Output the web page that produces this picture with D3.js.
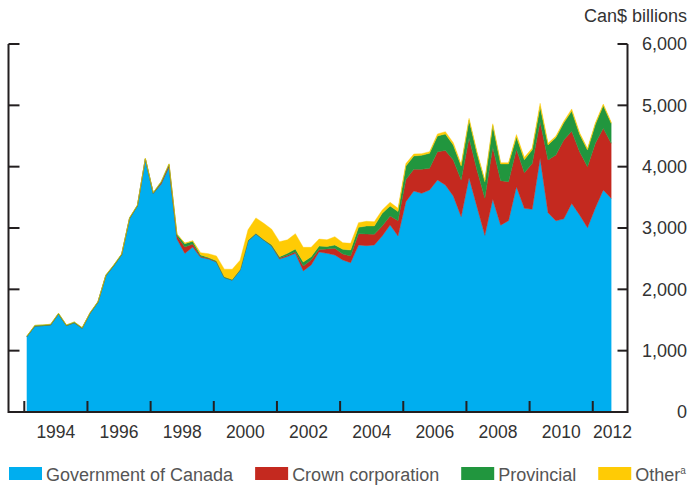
<!DOCTYPE html>
<html>
<head>
<meta charset="utf-8">
<script src="https://d3js.org/d3.v7.min.js"></script>
<style>
	body { margin: 0; background: #fff; }
	svg { display: block; }
	text { font-family: "Liberation Sans", Arial, Helvetica, sans-serif; }
</style>
</head>
<body>
<div id="chart"></div>
<script>
// Quarterly data, Can$ billions
var quarters = [
	"1993Q1","1993Q2","1993Q3","1993Q4","1994Q1","1994Q2","1994Q3","1994Q4",
	"1995Q1","1995Q2","1995Q3","1995Q4","1996Q1","1996Q2","1996Q3","1996Q4",
	"1997Q1","1997Q2","1997Q3","1997Q4","1998Q1","1998Q2","1998Q3","1998Q4",
	"1999Q1","1999Q2","1999Q3","1999Q4","2000Q1","2000Q2","2000Q3","2000Q4",
	"2001Q1","2001Q2","2001Q3","2001Q4","2002Q1","2002Q2","2002Q3","2002Q4",
	"2003Q1","2003Q2","2003Q3","2003Q4","2004Q1","2004Q2","2004Q3","2004Q4",
	"2005Q1","2005Q2","2005Q3","2005Q4","2006Q1","2006Q2","2006Q3","2006Q4",
	"2007Q1","2007Q2","2007Q3","2007Q4","2008Q1","2008Q2","2008Q3","2008Q4",
	"2009Q1","2009Q2","2009Q3","2009Q4","2010Q1","2010Q2","2010Q3","2010Q4",
	"2011Q1","2011Q2","2011Q3"
];

var govCanada = [
	1230, 1400, 1408, 1418, 1598, 1408, 1455, 1365,
	1610, 1790, 2222, 2385, 2565, 3155, 3362, 4125,
	3565, 3715, 3995, 2820, 2585, 2690, 2522, 2495,
	2445, 2192, 2150, 2315, 2790, 2905, 2804, 2706,
	2495, 2535, 2587, 2300, 2397, 2610, 2587, 2560,
	2478, 2435, 2723, 2712, 2723, 2870, 3049, 2870,
	3430, 3603, 3565, 3620, 3783, 3701, 3522, 3185,
	3818, 3348, 2880, 3468, 3045, 3120, 3674, 3321,
	3305, 4136, 3250, 3117, 3150, 3400, 3212, 3005,
	3330, 3620, 3484
];

var crownCorp = [
	0, 0, 0, 0, 0, 0, 0, 0,
	0, 0, 0, 0, 0, 0, 0, 0,
	0, 20, 30, 50, 105, 50, 15, 10,
	5, 0, 0, 0, 0, 0, 0, 5,
	15, 20, 25, 80, 80, 40, 70, 109,
	98, 109, 185, 190, 174, 163, 147, 250,
	360, 354, 392, 353, 462, 561, 587, 598,
	650, 598, 604, 848, 727, 635, 609, 581,
	745, 597, 859, 1073, 1285, 1176, 1033, 995,
	1050, 1006, 897
];

var provincial = [
	10, 12, 12, 12, 12, 10, 12, 10,
	10, 10, 12, 12, 12, 12, 12, 10,
	12, 20, 20, 27, 55, 44, 23, 15,
	15, 12, 12, 10, 10, 10, 10, 15,
	22, 32, 46, 65, 55, 55, 40, 54,
	77, 97, 103, 131, 136, 207, 163, 147,
	220, 217, 228, 245, 255, 271, 245, 228,
	290, 272, 271, 355, 272, 289, 200, 210,
	225, 245, 245, 285, 280, 330, 285, 272,
	310, 370, 326
];

var other = [
	0, 0, 0, 0, 0, 0, 0, 0,
	0, 0, 0, 0, 0, 0, 0, 0,
	0, 0, 0, 5, 10, 10, 38, 60,
	80, 125, 165, 150, 170, 250, 262, 255,
	245, 220, 250, 240, 153, 115, 110, 136,
	108, 109, 76, 76, 70, 54, 60, 54,
	40, 33, 27, 27, 33, 38, 37, 27,
	30, 27, 27, 28, 21, 20, 40, 40,
	28, 55, 27, 25, 26, 35, 25, 25,
	25, 25, 20
];

var seriesNames = ["Government of Canada", "Crown corporation", "Provincial", "Other"];
var seriesColors = ["#00aeef", "#c4291f", "#21963e", "#ffcb05"];

var yTicks = [0, 1000, 2000, 3000, 4000, 5000, 6000];
var xTickYears = [1993, 1995, 1997, 1999, 2001, 2003, 2005, 2007, 2009, 2011];
var xLabelYears = [1994, 1996, 1998, 2000, 2002, 2004, 2006, 2008, 2010, 2012];

var width = 687,
	height = 487,
	svg,
	x,
	y,
	table;

var axisColor = "#231f20";

function init() {
	svg = d3.select("#chart")
		.append("svg")
		.attr("width", width)
		.attr("height", height);

	// decimal year of each quarter (plotted near start of quarter)
	table = quarters.map(function(q, i) {
		var yr = +q.slice(0, 4), qn = +q.slice(5);
		return {
			t: yr + (qn - 1) / 4 + 1 / 12,
			gov: govCanada[i],
			crown: crownCorp[i],
			prov: provincial[i],
			other: other[i]
		};
	});

	x = d3.scaleLinear().domain([1992.5, 2012.1]).range([8.5, 627.5]);
	y = d3.scaleLinear().domain([0, 6000]).range([412, 44]);

	drawAreas();
	drawAxes();
	drawLegend();
}

function drawAreas() {
	var stack = d3.stack().keys(["gov", "crown", "prov", "other"]);
	var layers = stack(table);

	var area = d3.area()
		.x(function(d) { return x(d.data.t); })
		.y0(function(d) { return y(d[0]); })
		.y1(function(d) { return y(d[1]); });

	svg.append("g")
		.selectAll("path")
		.data(layers)
		.enter().append("path")
		.attr("d", area)
		.attr("fill", function(d, i) { return seriesColors[i]; })
		.attr("stroke", function(d, i) { return seriesColors[i]; })
		.attr("stroke-width", 0.4);
}

function drawAxes() {
	var g = svg.append("g");
	var left = x.range()[0], right = x.range()[1];

	// frame: left, bottom, right
	g.append("path")
		.attr("d", "M" + left + "," + y(6000) + "V" + y(0) + "H" + right + "V" + y(6000))
		.attr("fill", "none")
		.attr("stroke", axisColor)
		.attr("stroke-width", 2);

	// y ticks on both sides, pointing inward
	g.selectAll(".ltick")
		.data(yTicks)
		.enter().append("line")
		.attr("x1", left).attr("x2", left + 11)
		.attr("y1", function(d) { return y(d); })
		.attr("y2", function(d) { return y(d); })
		.attr("stroke", axisColor)
		.attr("stroke-width", 2);

	g.selectAll(".rtick")
		.data(yTicks)
		.enter().append("line")
		.attr("x1", right - 10).attr("x2", right)
		.attr("y1", function(d) { return y(d); })
		.attr("y2", function(d) { return y(d); })
		.attr("stroke", axisColor)
		.attr("stroke-width", 2);

	g.selectAll(".ylabel")
		.data(yTicks)
		.enter().append("text")
		.attr("x", 687)
		.attr("y", function(d) { return y(d); })
		.attr("dy", "0.36em")
		.attr("text-anchor", "end")
		.attr("font-size", "18px")
		.attr("fill", "#333")
		.text(d3.format(",d"));

	g.append("text")
		.attr("x", 687)
		.attr("y", 22)
		.attr("text-anchor", "end")
		.attr("font-size", "18px")
		.attr("fill", "#333")
		.text("Can$ billions");

	// x ticks at odd years, labels at even years
	g.selectAll(".xtick")
		.data(xTickYears)
		.enter().append("line")
		.attr("x1", function(d) { return x(d); })
		.attr("x2", function(d) { return x(d); })
		.attr("y1", y(0))
		.attr("y2", y(0) - 11)
		.attr("stroke", axisColor)
		.attr("stroke-width", 2);

	g.selectAll(".xlabel")
		.data(xLabelYears)
		.enter().append("text")
		.attr("x", function(d) { return Math.min(x(d), right - 15); })
		.attr("y", 438)
		.attr("text-anchor", "middle")
		.attr("font-size", "17.5px")
		.attr("fill", "#333")
		.text(function(d) { return d; });
}

function drawLegend() {
	var lg = svg.append("g");
	var cx = 9;

	seriesNames.forEach(function(name, i) {
		lg.append("rect")
			.attr("x", cx)
			.attr("y", 467)
			.attr("width", 33)
			.attr("height", 13)
			.attr("fill", seriesColors[i]);

		var t = lg.append("text")
			.attr("x", cx + 37)
			.attr("y", 481)
			.attr("font-size", "18px")
			.attr("fill", "#555");
		t.append("tspan").text(name);
		if (name == "Other") {
			t.append("tspan")
				.attr("font-size", "10px")
				.attr("dy", -7)
				.text("a");
		}
		cx = cx + 37 + t.node().getComputedTextLength() + 22;
	});
}

window.onload = init;
</script>
</body>
</html>
